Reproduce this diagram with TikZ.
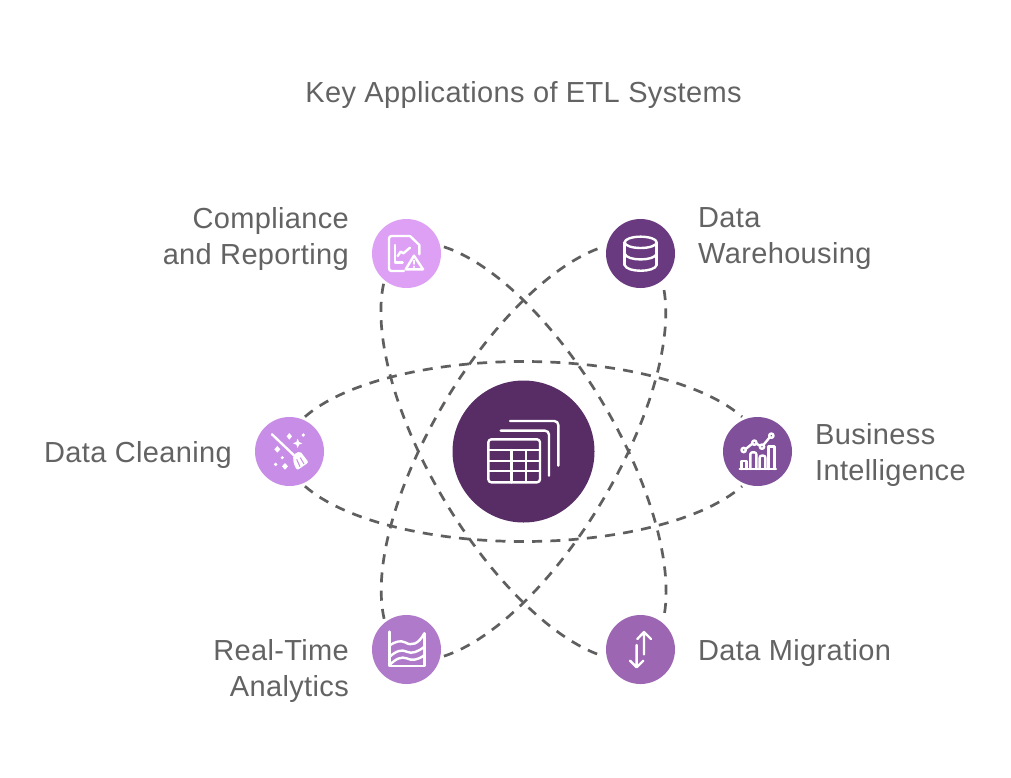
\documentclass[tikz,border=0pt]{standalone}
\usepackage{fontspec}
\setmainfont[LetterSpace=1.2]{Liberation Sans}
\definecolor{txt}{HTML}{636363}
\definecolor{cLink}{HTML}{5F5F5F}
\definecolor{cCenter}{HTML}{582D66}
\definecolor{cCompl}{HTML}{DDA0F5}
\definecolor{cWare}{HTML}{6A3A80}
\definecolor{cClean}{HTML}{C88DE6}
\definecolor{cBI}{HTML}{80509B}
\definecolor{cReal}{HTML}{B07ACB}
\definecolor{cMigr}{HTML}{9C66B2}
\tikzset{
  hub/.style={circle,fill=#1,draw=none,minimum size=69pt,inner sep=0pt,outer sep=3.5pt},
  link/.style={draw=cLink,line width=2.7pt,dash pattern=on 10pt off 8.3pt},
  lbl/.style={text=txt,font=\fontsize{29}{36}\selectfont,inner sep=0pt},
  ico/.style={draw=white,line width=2.4pt,line cap=round,line join=round,fill=none},
  tilted/.style={xscale=.983,yscale=1.033}
}
% half-ellipse between two node anchors: options, from, to, rotation, side (- = upper, empty = lower)
\newcommand{\ellarc}[5][]{%
  \draw[link,shift={(523.5,451.5)},rotate=#4,#1] (#2)
    .. controls (-180.2,#5 68.4) and (-94.7,#5 90) .. (0,#5 90)
    .. controls (94.7,#5 90) and (180.2,#5 68.4) .. (#3);}
\begin{document}
\begin{tikzpicture}[x=1pt,y=-1pt]
\useasboundingbox (0,0) rectangle (1011,777);
\fill[white] (0,0) rectangle (1011,777);

\node[lbl,anchor=center] (title) at (523.5,95) {Key Applications of ETL Systems};

\node[circle,fill=cCenter,minimum size=142pt,inner sep=0pt] (core) at (523.5,451.5) {};
\node[hub=cCompl] (compl) at (406.5,253.5) {};
\node[hub=cWare]  (ware)  at (640.5,253.5) {};
\node[hub=cClean] (clean) at (289.5,451.5) {};
\node[hub=cBI]    (bi)    at (757.5,451.5) {};
\node[hub=cReal]  (real)  at (406.5,649.5) {};
\node[hub=cMigr]  (migr)  at (640.5,649.5) {};

\ellarc{clean.66}{bi.114}{0}{-}
\ellarc{clean.294}{bi.246}{0}{}
\ellarc[tilted]{compl.10}{migr.53.6}{-59.4}{-}
\ellarc[tilted]{compl.233.6}{migr.190}{-59.4}{}
\ellarc[tilted]{real.126.4}{ware.170}{59.4}{-}
\ellarc[tilted]{real.350}{ware.306.4}{59.4}{}

\node[lbl,anchor=east,align=right] (tcompl) at (349,239) {Compliance\\and Reporting};
\node[lbl,anchor=west,align=left] (tware) at (698,239) {Data\\Warehousing};
\node[lbl,anchor=east] (tclean) at (232,455) {Data Cleaning};
\node[lbl,anchor=west,align=left] (tbi) at (815,455) {Business\\Intelligence};
\node[lbl,anchor=east,align=right] (treal) at (349,671) {Real-Time\\Analytics};
\node[lbl,anchor=west] (tmigr) at (698,653) {Data Migration};

% centre icon
\begin{scope}[shift={(445,375)},x=1pt/3,y=-1pt/3]
  \draw[ico,rounded corners=3pt] (130,193) rectangle (285,322);
  \draw[ico] (130,225) -- (285,225) (130,258) -- (285,258) (130,288) -- (285,288) (200,225) -- (200,322) (243,225) -- (243,322);
  \draw[ico,rounded corners=4pt] (167,167) -- (312,167) -- (312,302);
  \draw[ico,rounded corners=4pt] (195,138) -- (340,138) -- (340,272);
\end{scope}
% compliance icon
\begin{scope}[shift={(360,210)},x=1pt/3,y=-1pt/3]
  \draw[ico,rounded corners=2.5pt] (132,183) -- (87,183) -- (87,78) -- (150,78);
  \draw[ico] (150,78) -- (178,105) -- (178,133);
  \draw[ico] (105,105) -- (105,158) -- (128,158);
  \draw[ico] (113,138) -- (122,125) -- (130,130) -- (150,113);
  \draw[ico] (162,137) -- (137,178) -- (189,178) -- cycle;
  \draw[ico] (162,152) -- (162,161) (162,170) -- (162,171);
\end{scope}
% warehouse icon
\begin{scope}[shift={(595,210)},x=1pt/3,y=-1pt/3]
  \draw[ico] (137,97) ellipse[x radius=48,y radius=17];
  \draw[ico] (89,97) -- (89,165) (185,97) -- (185,165);
  \draw[ico] (89,131) .. controls (95,154) and (179,154) .. (185,131);
  \draw[ico] (89,165) .. controls (95,188) and (179,188) .. (185,165);
\end{scope}
% cleaning icon
\begin{scope}[shift={(245,405)},x=1pt/3,y=-1pt/3]
  \draw[ico] (81,88) -- (146,150);
  \fill[white,rounded corners=2pt] (144,150) -- (165,138) -- (191,172) -- (156,196) -- (146,176) -- cycle;
  \draw[draw=cClean,line width=1pt] (155,163) -- (165,185) (166,158) -- (177,177);
  \fill[white] (133,84) -- (141,94) -- (133,104) -- (125,94) -- cycle;
  \fill[white] (158,101) -- (162,111) -- (172,115) -- (162,119) -- (158,129) -- (154,119) -- (144,115) -- (154,111) -- cycle;
  \fill[white] (175,90) circle[radius=5.5];
  \fill[white] (97,123) -- (106,133) -- (97,143) -- (88,133) -- cycle;
  \fill[white] (112,158) circle[radius=5];
  \fill[white] (92,178) circle[radius=5.5];
  \fill[white] (120,174) -- (129,184) -- (120,194) -- (111,184) -- cycle;
\end{scope}
% BI icon
\begin{scope}[shift={(712,405)},x=1pt/3,y=-1pt/3]
  \draw[ico] (83,192) -- (192,192);
  \draw[ico] (88,192) -- (88,168) -- (103,168) -- (103,192);
  \draw[ico,rounded corners=2pt] (115,192) -- (115,142) -- (133,142) -- (133,192);
  \draw[ico,rounded corners=2pt] (143,192) -- (143,152) -- (160,152) -- (160,192);
  \draw[ico] (170,192) -- (170,125) -- (187,125) -- (187,192);
  \draw[ico] (95,135) circle[radius=6.5] (127,113) circle[radius=6.5] (150,125) circle[radius=6.5] (178,92) circle[radius=6.5];
  \draw[ico] (101,132) -- (121,116) (133,116) -- (144,122) (154,120) -- (173,97);
\end{scope}
% real-time icon
\begin{scope}[shift={(360,605)},x=1pt/3,y=-1pt/3]
  \draw[ico] (88,80) -- (88,183) -- (193,183) -- (193,85);
  \draw[ico] (88,122) .. controls (108,108) and (122,106) .. (135,112) .. controls (155,124) and (175,118) .. (193,85);
  \draw[ico] (88,156) .. controls (108,138) and (125,132) .. (140,140) .. controls (155,148) and (175,140) .. (193,125);
  \draw[ico] (88,181) .. controls (108,160) and (125,154) .. (140,160) .. controls (155,168) and (175,165) .. (193,150);
\end{scope}
% migration icon
\begin{scope}[shift={(595,605)},x=1pt/3,y=-1pt/3]
  \draw[ico] (147,85) -- (147,148) (127,102) -- (147,81) -- (168,102);
  \draw[ico] (125,120) -- (125,185) (105,167) -- (125,187) -- (145,167);
\end{scope}
\end{tikzpicture}
\end{document}
